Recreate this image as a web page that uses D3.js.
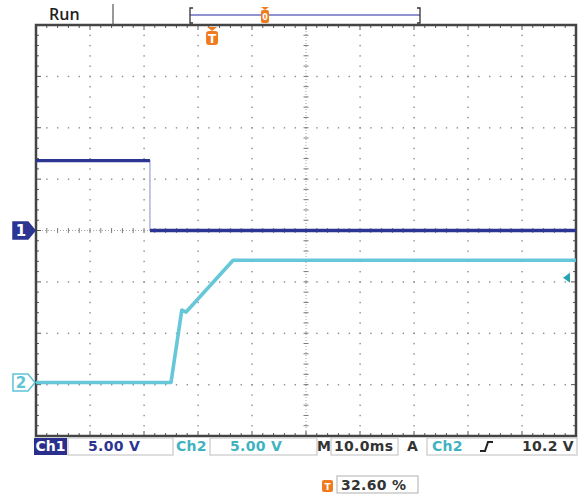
<!DOCTYPE html>
<html><head><meta charset="utf-8">
<script src="https://cdn.jsdelivr.net/npm/d3@7"></script>
<style>body{margin:0;background:#fff}svg{display:block}</style>
</head><body>
<script>
// ---- data ----
const timeDivs = 10, voltDivs = 8;
const timePerDiv = 10;            // ms/div
const ch1Scale = 5, ch2Scale = 5; // V/div
const ch2OffsetDiv = -2.96;       // ground position of ch2 (divisions from centre)
const ch1Time = [0, 21.1, 21.1, 100];
const ch1Volt = [6.8, 6.8, 0, 0];
const ch2Time = [0, 25.0, 27.0, 27.8, 36.5, 100];
const ch2Volt = [0, 0, 7.06, 6.86, 11.9, 11.9];
const triggerLevel = 10.2;        // V on Ch2
const triggerPct = 32.60;         // %
const statusLabels = ["Ch1", "5.00 V", "Ch2", "5.00 V", "M", "10.0ms", "A", "Ch2", "10.2 V"];

// ---- layout ----
const W = 584, H = 494;
const L = 36, R = 576, T = 25, B = 436;
const c1 = "#2c3592", c2 = "#5ec4d6", org = "#f07b1e";

const svg = d3.select("body").append("svg").attr("width", W).attr("height", H);
const x = d3.scaleLinear().domain([0, timeDivs * timePerDiv]).range([L, R]);
const yDiv = d3.scaleLinear().domain([-voltDivs / 2, voltDivs / 2]).range([B, T]);
const y1 = d3.scaleLinear().domain([-voltDivs / 2 * ch1Scale, voltDivs / 2 * ch1Scale]).range([B, T]);
const y2 = d3.scaleLinear().domain([(-voltDivs / 2 - ch2OffsetDiv) * ch2Scale, (voltDivs / 2 - ch2OffsetDiv) * ch2Scale]).range([B, T]);
const xDiv = d3.scaleLinear().domain([0, timeDivs]).range([L, R]);

const g = svg.append("g");
// dotted grid
const dotCol = "#8c8c8c";
for (let i = 1; i < timeDivs; i++) {
  if (i === timeDivs / 2) continue;
  for (let k = 1; k < voltDivs * 5; k++) {
    g.append("rect").attr("x", xDiv(i) - 0.6).attr("y", yDiv(-4 + k / 5) - 0.6).attr("width", 1.4).attr("height", 1.4).attr("fill", dotCol);
  }
}
for (let j = 1; j < voltDivs; j++) {
  if (j === voltDivs / 2) continue;
  for (let k = 1; k < timeDivs * 5; k++) {
    g.append("rect").attr("x", xDiv(k / 5) - 0.6).attr("y", yDiv(-4 + j) - 0.6).attr("width", 1.4).attr("height", 1.4).attr("fill", dotCol);
  }
}
// centre cross with ticks
const cx = xDiv(timeDivs / 2), cy = yDiv(0);
g.append("line").attr("x1", L).attr("x2", R).attr("y1", cy).attr("y2", cy).attr("stroke", "#a5a5a5").attr("stroke-dasharray", "1,2");
g.append("line").attr("y1", T).attr("y2", B).attr("x1", cx).attr("x2", cx).attr("stroke", "#a5a5a5").attr("stroke-dasharray", "1,2");
for (let k = 1; k < timeDivs * 5; k++) {
  const xx = xDiv(k / 5);
  g.append("line").attr("x1", xx).attr("x2", xx).attr("y1", cy - 2.5).attr("y2", cy + 2.5).attr("stroke", "#7a7a7a");
  const len = k % 5 === 0 ? 5 : 3;
  g.append("line").attr("x1", xx).attr("x2", xx).attr("y1", T).attr("y2", T + len).attr("stroke", "#555");
  g.append("line").attr("x1", xx).attr("x2", xx).attr("y1", B).attr("y2", B - len).attr("stroke", "#555");
}
for (let k = 1; k < voltDivs * 5; k++) {
  const yy = yDiv(-4 + k / 5);
  g.append("line").attr("y1", yy).attr("y2", yy).attr("x1", cx - 2.5).attr("x2", cx + 2.5).attr("stroke", "#7a7a7a");
  const len = k % 5 === 0 ? 5 : 3;
  g.append("line").attr("y1", yy).attr("y2", yy).attr("x1", L).attr("x2", L + len).attr("stroke", "#555");
  g.append("line").attr("y1", yy).attr("y2", yy).attr("x1", R).attr("x2", R - len).attr("stroke", "#555");
}
// frame
g.append("rect").attr("x", L).attr("y", T).attr("width", R - L).attr("height", B - T)
  .attr("fill", "none").attr("stroke", "#444").attr("stroke-width", 2.5);

// traces
const line1 = d3.line().x(d => x(d[0])).y(d => y1(d[1]));
const line2 = d3.line().x(d => x(d[0])).y(d => y2(d[1]));
const p1 = ch1Time.map((t, i) => [t, ch1Volt[i]]);
const p2 = ch2Time.map((t, i) => [t, ch2Volt[i]]);
svg.append("path").attr("d", line1(p1)).attr("fill", "none").attr("stroke", "#9aa0d8").attr("stroke-width", 1.2);
for (let i = 0; i < p1.length - 1; i++) {
  if (p1[i][0] === p1[i + 1][0]) continue;
  svg.append("path").attr("d", line1([p1[i], p1[i + 1]])).attr("fill", "none").attr("stroke", c1).attr("stroke-width", 3.4);
}
svg.append("path").attr("d", line2(p2)).attr("fill", "none").attr("stroke", c2).attr("stroke-width", 3.6).attr("stroke-linejoin", "round").attr("opacity", 0.95);

// channel markers
function marker(yy, label, fill, stroke, txt) {
  const gg = svg.append("g");
  gg.append("path").attr("d", `M13,${yy - 8.5}H28L35,${yy}L28,${yy + 8.5}H13Z`)
    .attr("fill", fill).attr("stroke", stroke).attr("stroke-width", 1.5);
  gg.append("text").attr("x", 21).attr("y", yy + 5.5).attr("text-anchor", "middle")
    .attr("font-family", "DejaVu Sans").attr("font-weight", "bold").attr("font-size", 15).attr("fill", txt).text(label);
}
marker(y1(0), "1", c1, c1, "#fff");
marker(y2(0), "2", "#fff", c2, c2);
// trigger level arrow (right)
const ty = y2(triggerLevel);
svg.append("path").attr("d", `M563,${ty}L570,${ty - 5}L570,${ty + 5}Z`).attr("fill", "#2aa3b0");

// trigger position marker
const tx = x(triggerPct);
function tMarker(px, py, s) {
  const gg = svg.append("g");
  gg.append("path").attr("d", `M${px - 5 * s},${py}H${px + 5 * s}L${px},${py + 4 * s}Z`).attr("fill", org);
  gg.append("rect").attr("x", px - 6 * s).attr("y", py + 4 * s).attr("width", 12 * s).attr("height", 14 * s).attr("rx", 3 * s).attr("fill", org);
  gg.append("text").attr("x", px).attr("y", py + 16 * s).attr("text-anchor", "middle").attr("font-family", "DejaVu Sans")
    .attr("font-weight", "bold").attr("font-size", 12 * s).attr("fill", "#fff").text("T");
}
tMarker(tx, T + 2, 1);

// top bar
svg.append("text").attr("x", 49).attr("y", 20).attr("font-family", "Open Sans").attr("font-weight", 600).attr("font-size", 16).attr("fill", "#222").text("Run");
svg.append("line").attr("x1", 113).attr("x2", 113).attr("y1", 4).attr("y2", 25).attr("stroke", "#555").attr("stroke-width", 1.2);
const bx0 = 190, bx1 = 420;
svg.append("line").attr("x1", bx0).attr("x2", bx1).attr("y1", 15).attr("y2", 15).attr("stroke", "#6a6fbf").attr("stroke-width", 1.3);
svg.append("path").attr("d", `M${bx0 + 3},8H${bx0}V23H${bx0 + 3}`).attr("fill", "none").attr("stroke", "#333").attr("stroke-width", 1.3);
svg.append("path").attr("d", `M${bx1 - 3},8H${bx1}V23H${bx1 - 3}`).attr("fill", "none").attr("stroke", "#333").attr("stroke-width", 1.3);
const bt = bx0 + (bx1 - bx0) * triggerPct / 100;
svg.append("path").attr("d", `M${bt - 4},7H${bt + 4}L${bt},10Z`).attr("fill", org);
svg.append("rect").attr("x", bt - 4).attr("y", 10).attr("width", 8).attr("height", 13).attr("rx", 2).attr("fill", org);
svg.append("text").attr("x", bt).attr("y", 20).attr("text-anchor", "middle").attr("font-family", "DejaVu Sans").attr("font-weight", "bold").attr("font-size", 8).attr("fill", "#fff").text("0");

// status bar
const sf = "DejaVu Sans", fs = 14;
const sy = 451;
svg.append("rect").attr("x", 34).attr("y", 438).attr("width", 33).attr("height", 17).attr("fill", "#2a2f8e");
svg.append("text").attr("x", 50.5).attr("y", sy).attr("text-anchor", "middle").attr("font-family", sf).attr("font-weight", "bold").attr("font-size", fs).attr("fill", "#fff").text(statusLabels[0]);
function box(x0, x1) {
  svg.append("rect").attr("x", x0).attr("y", 438).attr("width", x1 - x0).attr("height", 17).attr("fill", "none").attr("stroke", "#c8c8c8").attr("stroke-width", 1.2);
}
function txt(xx, s, col, anchor) {
  svg.append("text").attr("x", xx).attr("y", sy).attr("text-anchor", anchor || "start").attr("font-family", sf)
    .attr("font-size", fs).attr("font-weight", "bold").attr("fill", col).attr("letter-spacing", 0.3).text(s);
}
const tc = "#3fb3c0", dk = "#333";
box(68, 173);
txt(88, statusLabels[1], c1);
txt(176, statusLabels[2], tc);
box(210, 317);
txt(230, statusLabels[3], tc);
txt(317, statusLabels[4], dk);
box(331, 398);
txt(334, statusLabels[5], dk);
txt(407, statusLabels[6], dk);
box(427, 577);
txt(432, statusLabels[7], tc);
svg.append("path").attr("d", `M480,451H485L488,442H493`).attr("fill", "none").attr("stroke", "#222").attr("stroke-width", 2);
txt(574, statusLabels[8], dk, "end");

// trigger position readout
svg.append("rect").attr("x", 322).attr("y", 480).attr("width", 11).attr("height", 12).attr("rx", 2).attr("fill", org);
svg.append("text").attr("x", 327.5).attr("y", 490).attr("text-anchor", "middle").attr("font-family", sf).attr("font-weight", "bold").attr("font-size", 9).attr("fill", "#fff").text("T");
svg.append("rect").attr("x", 337).attr("y", 476).attr("width", 81).attr("height", 17).attr("fill", "none").attr("stroke", "#bdbdbd").attr("stroke-width", 1.2);
svg.append("text").attr("x", 341).attr("y", 490).attr("font-family", sf).attr("font-weight", "bold").attr("font-size", fs).attr("fill", dk).attr("letter-spacing", 0.3).text(triggerPct.toFixed(2) + " %");
</script>
</body></html>
